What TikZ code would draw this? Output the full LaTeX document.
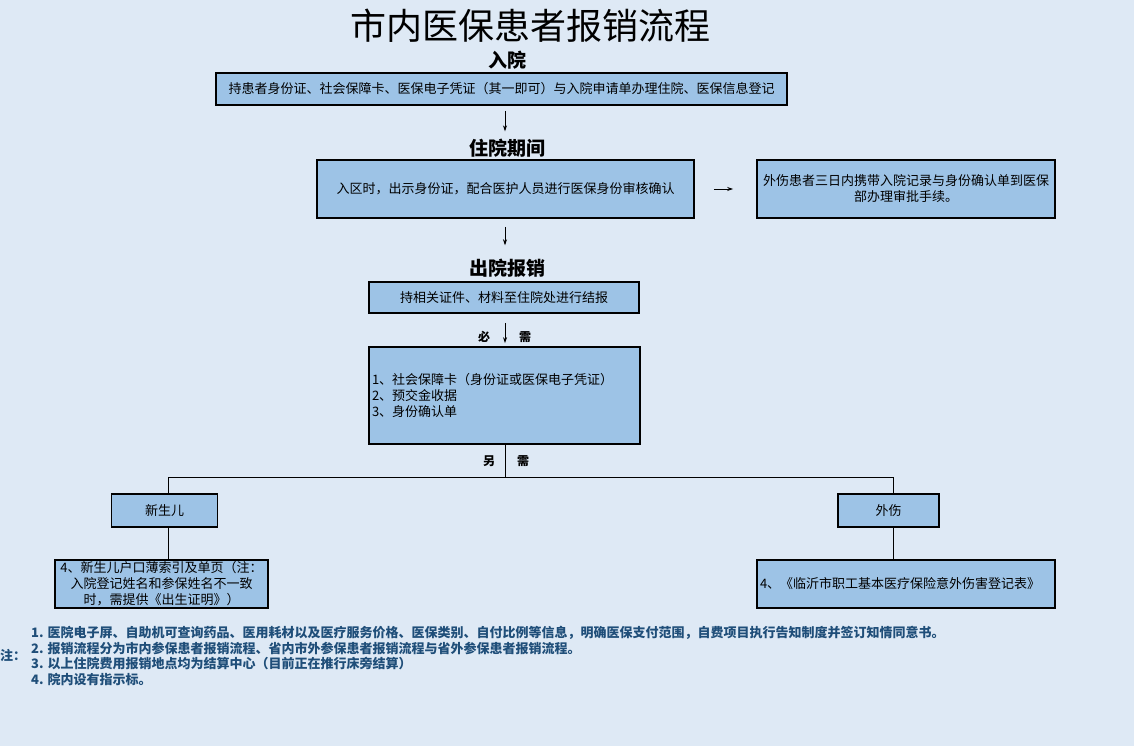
\documentclass[tikz,border=0pt]{standalone}
\usepackage{fontspec}
\setmainfont{Noto Sans CJK SC}
\usetikzlibrary{arrows.meta}
\definecolor{bg}{HTML}{DEE9F5}
\definecolor{boxblue}{HTML}{9DC3E6}
\definecolor{notec}{HTML}{1F4E79}
\tikzset{
  box/.style={draw=black, line width=1.6pt, fill=boxblue, inner sep=2pt, font=\fontsize{13}{16}\selectfont},
  head/.style={font=\bfseries\fontsize{19}{22}\selectfont},
  tag/.style={font=\bfseries\fontsize{12}{14}\selectfont},
  arr/.style={-{Stealth[length=6pt,width=4pt]}, line width=0.8pt},
  conn/.style={line width=0.8pt}
}
\begin{document}
\begin{tikzpicture}[x=1pt,y=-1pt]
\fill[bg] (0,0) rectangle (1134,746);
\useasboundingbox (0,0) rectangle (1134,746);
\node (title) at (530,26) {\fontsize{36}{40}\selectfont 市内医保患者报销流程};
\node[head] (h1) at (507,60) {入院};
\node[box, minimum width=571pt, minimum height=32pt] (b1) at (501.5,89) {持患者身份证、社会保障卡、医保电子凭证（其一即可）与入院申请单办理住院、医保信息登记};
\node[head] (h2) at (507,148) {住院期间};
\node[box, minimum width=377pt, minimum height=58pt] (b2) at (505.5,189) {入区时，出示身份证，配合医护人员进行医保身份审核确认};
\node[box, minimum width=298pt, minimum height=58pt, align=center] (b3) at (906,189) {外伤患者三日内携带入院记录与身份确认单到医保\\部办理审批手续。};
\node[head] (h3) at (507,268) {出院报销};
\node[box, minimum width=270pt, minimum height=31pt] (b4) at (504,297.5) {持相关证件、材料至住院处进行结报};
\node[tag] (t1) at (484,337) {必};
\node[tag] (t2) at (525,337) {需};
\node[box, minimum width=271pt, minimum height=97pt, text width=265pt, align=left] (b5) at (504.5,395.5) {1、社会保障卡（身份证或医保电子凭证）\\2、预交金收据\\3、身份确认单};
\node[tag] (t3) at (489,461) {另};
\node[tag] (t4) at (523,461) {需};
\node[box, minimum width=106pt, minimum height=33pt] (nb) at (164.5,510.5) {新生儿};
\node[box, minimum width=101pt, minimum height=33pt] (wb) at (888.5,510.5) {外伤};
\node[box, minimum width=213pt, minimum height=48pt, inner sep=1pt, align=center] (b6) at (161.5,584) {4、新生儿户口薄索引及单页（注：\\入院登记姓名和参保姓名不一致\\时，需提供《出生证明》）};
\node[box, minimum width=298pt, minimum height=48pt, text width=292pt, align=left] (b7) at (906,584) {4、《临沂市职工基本医疗保险意外伤害登记表》};
\coordinate (jm) at (505,477);
\coordinate (jl) at (168,477);
\coordinate (jr) at (893,477);
\draw[arr, shorten <=5pt, shorten >=4pt] (b1.south -| jm) -- (h2.north -| jm);
\draw[arr, shorten <=19pt, shorten >=23pt] (b2) -- (b3);
\draw[arr, shorten <=8pt, shorten >=10pt] (b2.south -| jm) -- (h3.north -| jm);
\draw[arr, shorten <=9pt, shorten >=3pt] (b4.south -| jm) -- (b5.north -| jm);
\draw[conn] (b5.south -| jm) -- (jm);
\draw[conn] (jl) -- (jr);
\draw[conn] (jl) -- (jl |- nb.north);
\draw[conn] (jr) -- (jr |- wb.north);
\draw[conn] (jl |- nb.south) -- (jl |- b6.north);
\draw[conn] (jr |- wb.south) -- (jr |- b7.north);
\node[font=\bfseries\fontsize{13}{14}\selectfont, text=notec] (zhu) at (13,655) {注：};
\node[anchor=west, align=left, inner sep=0pt, text=notec, font=\bfseries\fontsize{13}{15.5}\selectfont] (notes) at (31,656) {1. 医院电子屏、自助机可查询药品、医用耗材以及医疗服务价格、医保类别、自付比例等信息，明确医保支付范围，自费项目执行告知制度并签订知情同意书。\\2. 报销流程分为市内参保患者报销流程、省内市外参保患者报销流程与省外参保患者报销流程。\\3. 以上住院费用报销地点均为结算中心（目前正在推行床旁结算）\\4. 院内设有指示标。};
\end{tikzpicture}
\end{document}
